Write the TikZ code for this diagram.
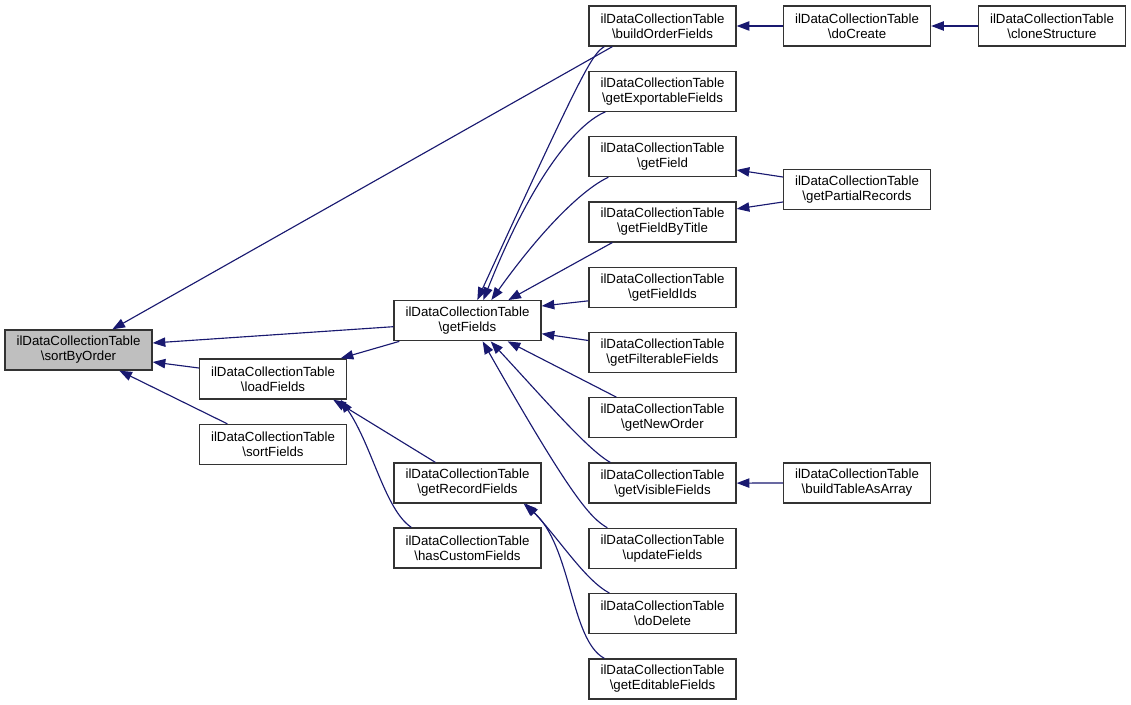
\documentclass[tikz,border=0pt]{standalone}
\usepackage{fontspec}
\setmainfont{Liberation Sans}
\usetikzlibrary{arrows.meta,calc}
\definecolor{edgeblue}{HTML}{191970}
\definecolor{nodegray}{HTML}{BFBFBF}
\newcommand{\dct}{ilDataCollectionTable\\\textbackslash}
\begin{document}
\begin{tikzpicture}[x=0.75pt,y=-0.75pt,
 fn/.style={draw=black!80, line width=1pt, fill=white, minimum width=110.25pt, minimum height=30pt, inner sep=0pt, align=center, font=\fontsize{9.95}{11.25}\selectfont},
 edge/.style={draw=edgeblue, line width=0.85pt, -{Triangle[length=9.5pt,width=7pt]}}]
\useasboundingbox (0,0) rectangle (1131,705);
% nodes
\node[fn, fill=nodegray] (sbo) at (78.5,350) {\dct sortByOrder};
\node[fn] (lf) at (273,379) {\dct loadFields};
\node[fn] (sf) at (273,444.5) {\dct sortFields};
\node[fn] (gf) at (467.5,320.7) {\dct getFields};
\node[fn] (grf) at (467.5,483) {\dct getRecordFields};
\node[fn] (hcf) at (467.5,548) {\dct hasCustomFields};
\node[fn] (bof) at (662.5,26) {\dct buildOrderFields};
\node[fn] (gex) at (662.5,91.3) {\dct getExportableFields};
\node[fn] (gfd) at (662.5,156.6) {\dct getField};
\node[fn] (gfbt) at (662.5,221.9) {\dct getFieldByTitle};
\node[fn] (gfi) at (662.5,287.2) {\dct getFieldIds};
\node[fn] (gfl) at (662.5,352.5) {\dct getFilterableFields};
\node[fn] (gno) at (662.5,417.8) {\dct getNewOrder};
\node[fn] (gvf) at (662.5,483.1) {\dct getVisibleFields};
\node[fn] (uf) at (662.5,548.4) {\dct updateFields};
\node[fn] (dd) at (662.5,613.7) {\dct doDelete};
\node[fn] (gef) at (662.5,679) {\dct getEditableFields};
\node[fn] (dc) at (857,26) {\dct doCreate};
\node[fn] (cs) at (1052,26) {\dct cloneStructure};
\node[fn] (gpr) at (857,189.5) {\dct getPartialRecords};
\node[fn] (btaa) at (857,483) {\dct buildTableAsArray};
% edges
\draw[edge] ($(bof.south west)+(24,0)$) -- ($(sbo.north west)+(108,0)$);
\draw[edge] ($(gf.west)+(0,6)$) -- ($(sbo.east)+(0,-7)$);
\draw[edge] ($(lf.west)+(0,-11)$) -- ($(sbo.east)+(0,12)$);
\draw[edge] ($(sf.north west)+(28.5,0)$) -- ($(sbo.south west)+(115,0)$);
\draw[edge] ($(gf.south west)+(6,0)$) -- ($(lf.north east)+(-6.5,0)$);
\draw[edge] ($(grf.north west)+(42,0)$) -- ($(lf.south east)+(-14,0)$);
\draw[edge] ($(hcf.north west)+(18,0)$) .. controls (385,510) and (372,445) .. ($(lf.south east)+(-6.5,0)$);
\draw[edge] ($(bof.south west)+(16,0)$) .. controls (592,54) and (583,70) .. ($(gf.north west)+(84,0)$);
\draw[edge] ($(gex.south west)+(17,0)$) .. controls (580,122) and (535,170) .. ($(gf.north west)+(90,0)$);
\draw[edge] ($(gfd.south west)+(20,0)$) .. controls (585,188) and (545,225) .. ($(gf.north west)+(98,0)$);
\draw[edge] ($(gfbt.south west)+(24,0)$) -- ($(gf.north west)+(115,0)$);
\draw[edge] ($(gfi.south west)+(0,-7)$) -- ($(gf.north east)+(0,6)$);
\draw[edge] ($(gfl.west)+(0,-12)$) -- ($(gf.east)+(0,13)$);
\draw[edge] ($(gno.north west)+(28,0)$) -- ($(gf.south east)+(-34,0)$);
\draw[edge] ($(gvf.north west)+(22,0)$) .. controls (588,450) and (545,400) .. ($(gf.south east)+(-51,0)$);
\draw[edge] ($(uf.north west)+(19,0)$) .. controls (590,518) and (570,495) .. ($(gf.south east)+(-59,0)$);
\draw[edge] ($(dd.north west)+(21,0)$) .. controls (585,580) and (560,540) .. ($(grf.south east)+(-16,0)$);
\draw[edge] ($(gef.north west)+(16,0)$) .. controls (570,640) and (572,545) .. ($(grf.south east)+(-18,0)$);
\draw[edge] (dc.west) -- (bof.east);
\draw[edge] (cs.west) -- (dc.east);
\draw[edge] ($(gpr.west)+(0,-12.5)$) -- ($(gfd.east)+(0,13.4)$);
\draw[edge] ($(gpr.west)+(0,12.5)$) -- ($(gfbt.east)+(0,-13)$);
\draw[edge] (btaa.west) -- (gvf.east);
\end{tikzpicture}
\end{document}
